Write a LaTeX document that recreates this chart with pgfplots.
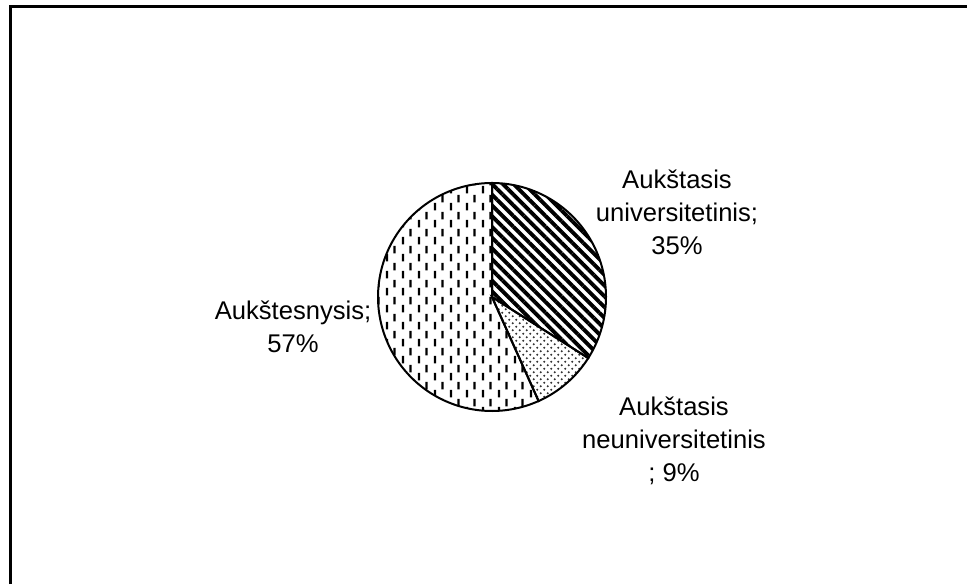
\documentclass[border=0pt]{standalone}
\usepackage{fontspec}
\setmainfont{Liberation Sans}
\usepackage{pgfplots}
\usepackage{pgfplotstable}
\pgfplotsset{compat=1.18}
\usetikzlibrary{patterns,patterns.meta}

\pgfdeclarepatternformonly{mydots}{\pgfqpoint{-0.5pt}{-0.5pt}}{\pgfqpoint{4pt}{4pt}}{\pgfqpoint{3.5pt}{3.5pt}}{%
  \pgfpathcircle{\pgfqpoint{0.875pt}{0.875pt}}{0.55pt}%
  \pgfpathcircle{\pgfqpoint{2.625pt}{2.625pt}}{0.55pt}%
  \pgfusepath{fill}}
\pgfdeclarepatternformonly{mydashes}{\pgfqpoint{0pt}{0pt}}{\pgfqpoint{8pt}{8.5pt}}{\pgfqpoint{8pt}{8.5pt}}{%
  \pgfpathrectangle{\pgfqpoint{1pt}{0.3pt}}{\pgfqpoint{1.2pt}{4pt}}%
  \pgfpathrectangle{\pgfqpoint{5pt}{4.55pt}}{\pgfqpoint{1.2pt}{4pt}}%
  \pgfusepath{fill}}

\pgfplotstableread{
label value
Univ 34.0
Neuniv 9.3
Aukst 56.7
}\pietable

\begin{document}
\begin{tikzpicture}
\pgfplotstablegetelem{0}{value}\of\pietable \let\va\pgfplotsretval
\pgfplotstablegetelem{1}{value}\of\pietable \let\vb\pgfplotsretval
\pgfplotstablegetelem{2}{value}\of\pietable \let\vc\pgfplotsretval
\pgfmathsetmacro{\aA}{90}
\pgfmathsetmacro{\aB}{90-\va*3.6}
\pgfmathsetmacro{\aC}{\aB-\vb*3.6}
\pgfmathsetmacro{\aD}{\aC-\vc*3.6}
\begin{axis}[
  at={(0pt,0pt)}, anchor=origin,
  scale only axis, width=483.5pt, height=292pt,
  xmin=0, xmax=967, ymin=0, ymax=584,
  hide axis, clip=false,
  font=\fontsize{12.8pt}{16.5pt}\selectfont,
]
% frame
\draw[line width=1.3pt] (axis cs:10.5,0) -- (axis cs:10.5,577.5) -- (axis cs:967,577.5);
% slices
\addplot[draw=black, line width=1pt, pattern={Lines[angle=-45,distance=3.8pt,line width=1.9pt]},
  domain=\aB:\aA, samples=80, variable=\t]
  ({492+114*cos(\t)}, {287+114*sin(\t)}) -- (axis cs:492,287) -- cycle;
\addplot[draw=black, line width=1pt, pattern=mydots, pattern color=black!80,
  domain=\aC:\aB, samples=30, variable=\t]
  ({492+114*cos(\t)}, {287+114*sin(\t)}) -- (axis cs:492,287) -- cycle;
\addplot[draw=black, line width=1pt, pattern=mydashes,
  domain=\aD:\aC, samples=120, variable=\t]
  ({492+114*cos(\t)}, {287+114*sin(\t)}) -- (axis cs:492,287) -- cycle;
% labels
\node[align=center] at (axis cs:677,372) {Aukštasis\\universitetinis;\\35\%};
\node[align=center] at (axis cs:293,257) {Aukštesnysis;\\57\%};
\node[align=center] at (axis cs:674,143) {Aukštasis\\neuniversitetinis\\; 9\%};
\end{axis}
\pgfresetboundingbox
\useasboundingbox (0pt,0pt) rectangle (483.5pt,292pt);
\end{tikzpicture}
\end{document}
